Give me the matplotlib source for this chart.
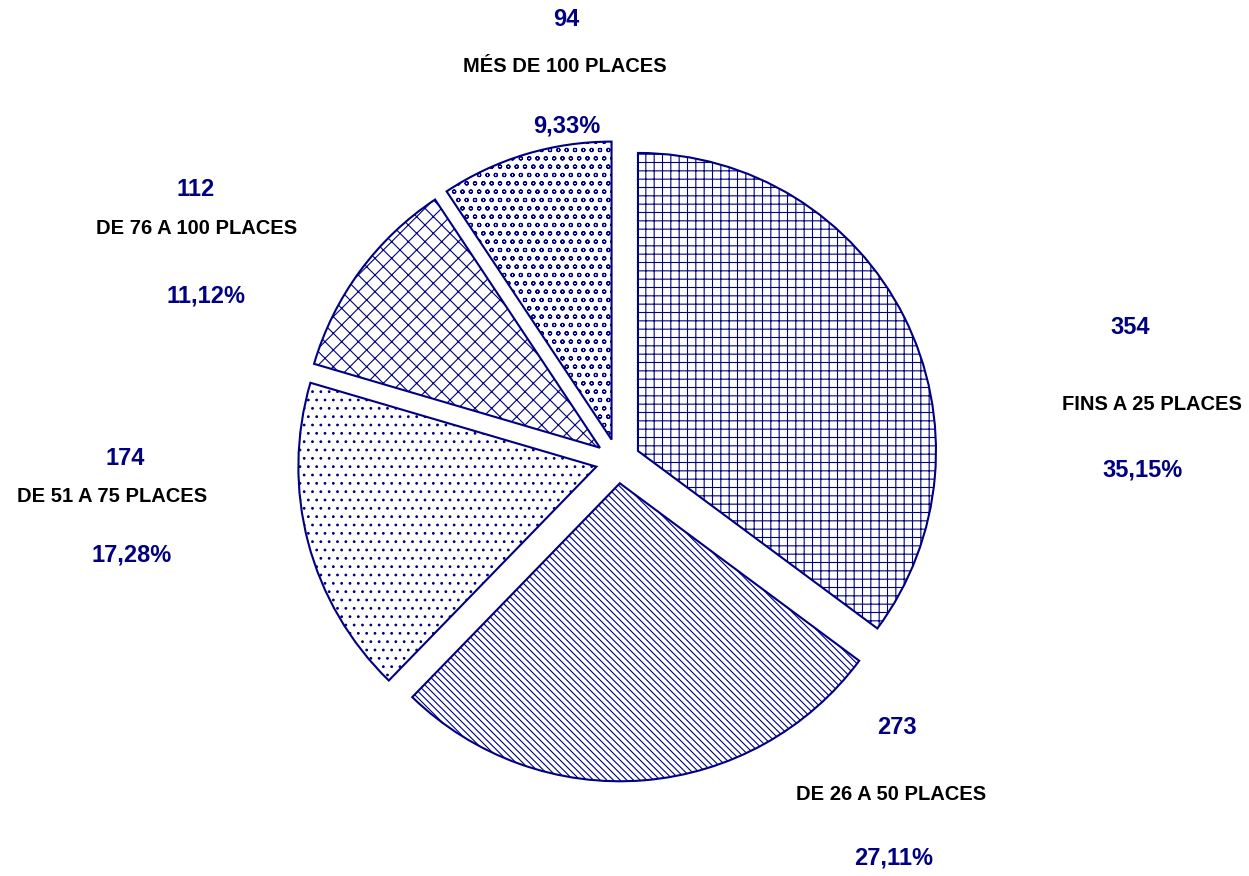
import matplotlib
matplotlib.use("Agg")
import matplotlib.pyplot as plt

# data
categories = ["FINS A 25 PLACES", "DE 26 A 50 PLACES", "DE 51 A 75 PLACES",
              "DE 76 A 100 PLACES", "MÉS DE 100 PLACES"]
counts = [354, 273, 174, 112, 94]

# label centres in pixels (x, y from top): count, category, percent
count_pos = [(1130, 327), (897, 727), (125, 458), (196, 189), (566, 20)]
cat_pos = [(1152, 405), (891, 795), (112, 497), (197, 229), (565, 66)]
pct_pos = [(1143, 470), (894, 858), (132, 555), (206, 296), (567, 126)]

hatches = ["++", "\\\\\\\\\\", "..", "xx", "oo"]
navy = "#000080"

W, H = 1249, 876
cx, cy, rad = 618, 461, 298

plt.rcParams["font.family"] = ["Liberation Sans", "DejaVu Sans"]
plt.rcParams["hatch.linewidth"] = 0.8

fig = plt.figure(figsize=(W / 100, H / 100), dpi=100)
ax = fig.add_axes([0, 0, 1, 1])

wedges, _ = ax.pie(counts, startangle=90, counterclock=False,
                   explode=[0.075] * len(counts), radius=1,
                   colors=["white"] * len(counts),
                   wedgeprops=dict(edgecolor=navy, linewidth=1.5))
for w, h in zip(wedges, hatches):
    w.set_hatch(h)

ax.set_xlim(-cx / rad, (W - cx) / rad)
ax.set_ylim(-(H - cy) / rad, cy / rad)
ax.set_aspect("auto")
ax.axis("off")

total = sum(counts)
for i, cat in enumerate(categories):
    pct = f"{counts[i] / total * 100:.2f}".replace(".", ",") + "%"
    x, y = count_pos[i]
    fig.text(x / W, 1 - y / H, str(counts[i]), ha="center", va="center",
             fontsize=17, fontweight="bold", color=navy)
    x, y = cat_pos[i]
    fig.text(x / W, 1 - y / H, cat, ha="center", va="center",
             fontsize=14.5, fontweight="bold", color="black")
    x, y = pct_pos[i]
    fig.text(x / W, 1 - y / H, pct, ha="center", va="center",
             fontsize=17, fontweight="bold", color=navy)

fig.savefig("out.png", dpi=100)
